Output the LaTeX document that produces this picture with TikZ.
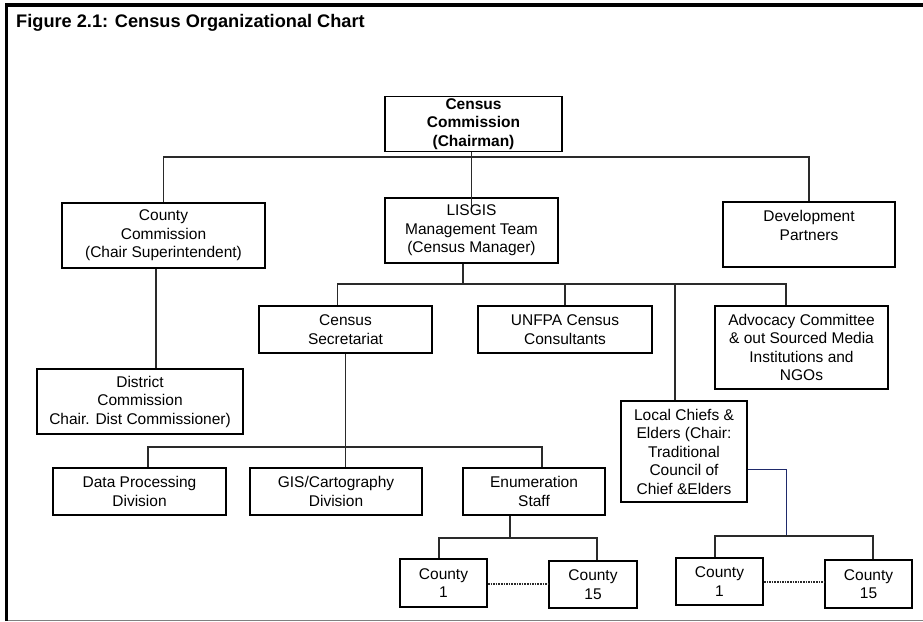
\documentclass[tikz,border=0pt]{standalone}
\usepackage{fontspec}
\setmainfont{Liberation Sans}
\usepackage{tikz}
\usetikzlibrary{calc}
\usetikzlibrary{positioning}
\definecolor{linkgray}{HTML}{2A2A2A}
\definecolor{chiefnavy}{HTML}{1F2A6B}

\begin{document}
\begin{tikzpicture}[x=1pt,y=1pt,yscale=-1,xscale=1,
  unit/.style={draw=black, line width=1.8pt, align=center, inner sep=2pt,
    font=\fontsize{15.5}{18.5}\selectfont},
  link/.style={draw=linkgray, line width=1.3pt},
  chieflink/.style={draw=chiefnavy, line width=1pt},
  dotlink/.style={draw=linkgray, line width=1.6pt, densely dotted}]
  \useasboundingbox (0,0) rectangle (923,621);

    %Shape: Frame
    \draw [line width=3.5pt] (6.3,621) -- (6.3,4.8) -- (923,4.8);
    \draw [line width=1pt, draw=black!50] (8,620) -- (923,620);

    % Text Node
    \node [anchor=base west, inner sep=0pt, font=\bfseries\fontsize{18.2}{22}\selectfont] (title) at (16,27.7) {Figure 2.1: Census Organizational Chart};

    % Boxes
    \node [unit, minimum width=177pt, minimum height=52pt, font=\bfseries\fontsize{15.5}{18.5}\selectfont] (comm) at (473.5,124) {Census\\Commission\\(Chairman)};
    \node [unit, minimum width=203pt, minimum height=65pt] (county) at (163.5,235.5) {County\\Commission\\(Chair Superintendent)};
    \node [unit, minimum width=173pt, minimum height=65pt] (lisgis) at (471.5,230.5) {LISGIS\\Management Team\\(Census Manager)};
    \node [unit, minimum width=172pt, minimum height=65pt] (devp) at (809,234.5) {Development\\Partners\\\mbox{}};
    \node [unit, minimum width=206pt, minimum height=65pt] (district) at (140,401.5) {District\\Commission\\Chair. Dist Commissioner)};
    \node [unit, minimum width=173pt, minimum height=47pt] (secr) at (345.5,329.5) {Census\\Secretariat};
    \node [unit, minimum width=174pt, minimum height=47pt] (unfpa) at (565,329.5) {UNFPA Census\\Consultants};
    \node [unit, minimum width=173pt, minimum height=83pt] (advo) at (801.5,347.5) {Advocacy Committee\\\& out Sourced Media\\Institutions and\\NGOs};
    \node [unit, minimum width=126pt, minimum height=101pt] (chiefs) at (684,451.5) {Local Chiefs \&\\Elders (Chair:\\Traditional\\Council of\\Chief \&Elders};
    \node [unit, minimum width=173pt, minimum height=47pt] (dpd) at (139.5,491.5) {Data Processing\\Division};
    \node [unit, minimum width=172pt, minimum height=47pt] (gis) at (336,491.5) {GIS/Cartography\\Division};
    \node [unit, minimum width=142pt, minimum height=47pt] (enum) at (534,491.5) {Enumeration\\Staff};
    \node [unit, minimum width=87pt, minimum height=48pt] (ca1) at (443.5,583) {County\\1};
    \node [unit, minimum width=88pt, minimum height=47pt] (ca15) at (593,584.5) {County\\15};
    \node [unit, minimum width=87pt, minimum height=47pt] (cb1) at (719.5,581.5) {County\\1};
    \node [unit, minimum width=87pt, minimum height=48pt] (cb15) at (868.5,584) {County\\15};

    % Bus points
    \coordinate (b1) at (473,157);
    \coordinate (b2) at (463,284);
    \coordinate (b3) at (345,447);
    \coordinate (b4) at (510,538);
    \coordinate (b5) at (786,536);

    % Connectors
    \draw [link] ($(lisgis.north)+(0,10)$) -- (lisgis.north |- comm.south);
    \draw [link] (county.north) |- (b1) -| (devp.north);
    \draw [link] ($(county.south)+(-7.5,0)$) -- ($(county.south |- district.north)+(-7.5,0)$);
    \draw [link] ($(lisgis.south)+(-8.5,0)$) -- (b2);
    \draw [link] ($(secr.north)+(-8,0)$) |- (b2) -| ($(advo.north)+(-15.5,0)$);
    \draw [link] (unfpa.north) -- (unfpa.north |- b2);
    \draw [link] ($(chiefs.north)+(-9,0)$) -- ($(chiefs.north |- b2)+(-9,0)$);
    \draw [link] (secr.south) -- (secr.south |- gis.north);
    \draw [link] ($(dpd.north)+(8.5,0)$) |- (b3) -| ($(enum.north)+(8,0)$);
    \draw [link] ($(enum.south)+(-24,0)$) -- (b4);
    \draw [link] ($(ca1.north)+(-4.5,0)$) |- (b4) -| ($(ca15.north)+(4,0)$);
    \draw [chieflink] ($(chiefs.east)+(0,17.5)$) -| (b5);
    \draw [link] ($(cb1.north)+(-4.5,0)$) |- (b5) -| ($(cb15.north)+(4.5,0)$);

    % Dotted links
    \draw [dotlink] ($(ca1.east)+(0,1)$) -- ($(ca1.east -| ca15.west)+(0,1)$);
    \draw [dotlink] ($(cb1.east)+(0,0.5)$) -- ($(cb1.east -| cb15.west)+(0,0.5)$);

  \end{tikzpicture}
\end{document}
